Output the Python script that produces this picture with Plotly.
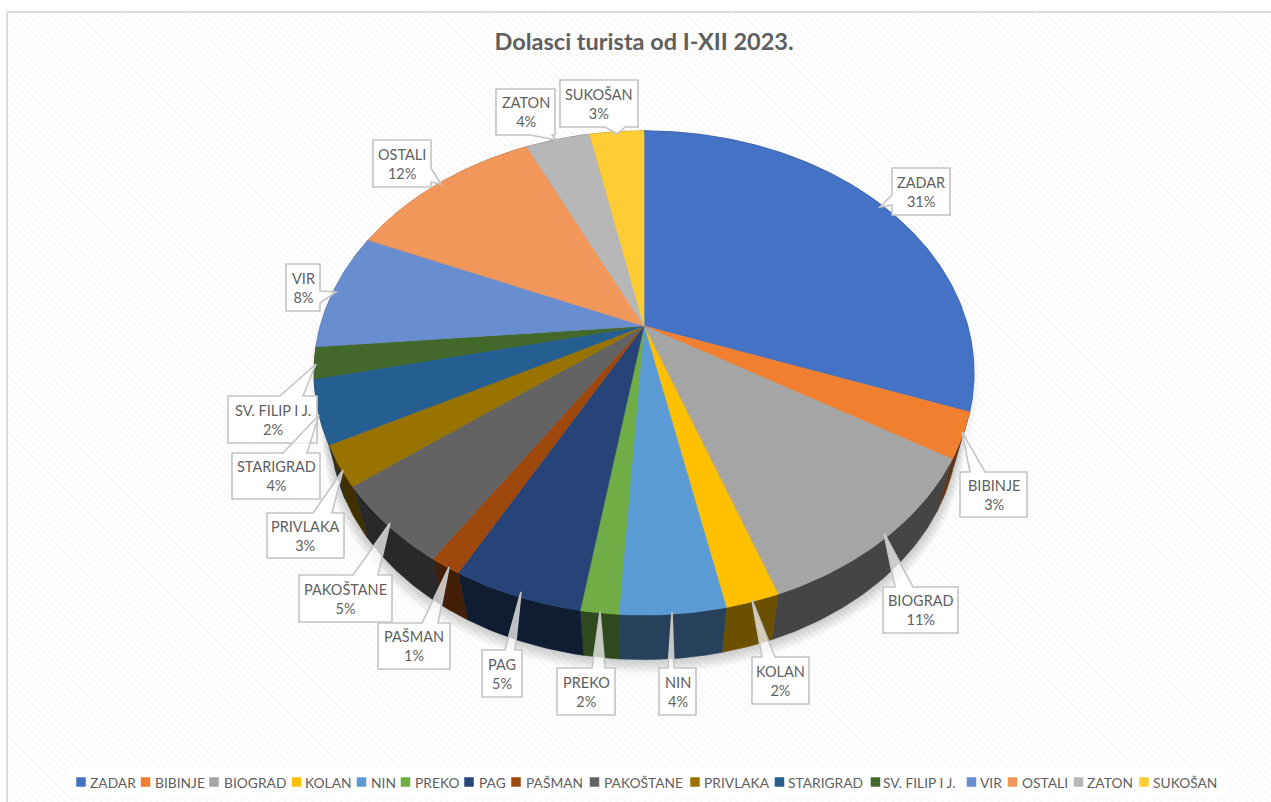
import numpy as np
import plotly.graph_objects as go

# ---- data -----------------------------------------------------------------
categories = ["ZADAR", "BIBINJE", "BIOGRAD", "KOLAN", "NIN", "PREKO", "PAG", "PAŠMAN",
              "PAKOŠTANE", "PRIVLAKA", "STARIGRAD", "SV. FILIP I J.", "VIR", "OSTALI",
              "ZATON", "SUKOŠAN"]
values = [30.6, 3.0, 10.9, 2.2, 4.3, 1.55, 5.35, 1.3, 5.4, 2.7, 4.2, 2.1, 7.9, 11.5, 3.8, 3.2]
title_text = "Dolasci turista od I-XII 2023."

# ---- styles ---------------------------------------------------------------
colors = ["#4472C4", "#F07F2F", "#A5A5A5", "#FFC000", "#5B9BD5", "#70AD47", "#264478", "#9E480E",
          "#636363", "#997300", "#255E91", "#43682B", "#698ED0", "#F1975A", "#B7B7B7", "#FFCD33"]
SIDE_SHADE = 0.42
FONT = "Lato, 'Noto Sans', sans-serif"
TEXT = "#5f5f5f"

# ---- layout: the projection of the tilted pie onto the page (pixels) -------
CX, CY = 644.0, 326.0
A, B, K = 323.7, 233.0, 0.194
SIDE_SCALE, SIDE_DROP = 0.95, 59.0


def project(theta, scale=1.0, drop=0.0):
    u, v = np.sin(theta), np.cos(theta)
    d = 1 + K * v
    return CX + scale * A * u / d, CY - scale * B * v / d + drop


def darker(hex_color, f):
    r, g, b = (int(hex_color[i:i + 2], 16) for i in (1, 3, 5))
    return f"rgb({int(r * f)},{int(g * f)},{int(b * f)})"


def poly(xs, ys, fill, line=None, width=0.6):
    return go.Scatter(x=list(xs), y=list(ys), mode="lines", fill="toself", fillcolor=fill,
                      line=dict(color=line or "rgba(0,0,0,0)", width=width if line else 0),
                      hoverinfo="skip", showlegend=False)


fractions = np.array(values) / sum(values)
edges = np.concatenate([[0.0], np.cumsum(fractions)]) * 2 * np.pi

fig = go.Figure()

# page background with the faint diagonal hatch, frame line
fig.add_trace(go.Scatter(x=[7, 1275, 1275, 7, 7], y=[12, 12, 806, 806, 12], mode="lines", fill="toself",
                         fillcolor="#ffffff", line=dict(color="#dcdcdc", width=2),
                         fillpattern=dict(shape="\\", fgcolor="#f1f1f1", bgcolor="#ffffff",
                                          size=5, solidity=0.35),
                         hoverinfo="skip", showlegend=False))
fig.add_trace(poly([69, 1226, 1226, 69, 69], [767, 767, 798, 798, 767], "#ffffff"))

# soft shadow beneath the pie
ring = np.linspace(0, 2 * np.pi, 241)
for step in range(1, 8):
    sx, sy = project(ring, SIDE_SCALE + 0.0035 * step, SIDE_DROP + 1.0 * step)
    fig.add_trace(poly(sx, sy, "rgba(0,0,0,0.028)"))
for step in range(1, 5):
    sx, sy = project(ring, 1.0 + 0.004 * step, 3.0 + step)
    fig.add_trace(poly(sx, sy, "rgba(0,0,0,0.012)"))

# side walls, then top faces, all computed from the values
for i in range(len(values)):
    th = np.linspace(edges[i], edges[i + 1], max(4, int(values[i] * 5)))
    x1, y1 = project(th)
    x2, y2 = project(th[::-1], SIDE_SCALE, SIDE_DROP)
    c = darker(colors[i], SIDE_SHADE)
    fig.add_trace(poly(np.r_[x1, x2, x1[0]], np.r_[y1, y2, y1[0]], c, c))
for i in range(len(values)):
    th = np.linspace(edges[i], edges[i + 1], max(4, int(values[i] * 5)))
    x1, y1 = project(th)
    fig.add_trace(go.Scatter(x=np.r_[CX, x1, CX], y=np.r_[CY, y1, CY], mode="lines", fill="toself",
                             fillcolor=colors[i], line=dict(color=colors[i], width=0.6),
                             name=categories[i], hoverinfo="name", showlegend=False))

# ---- callouts: box left, top, right, bottom, tail edge, tail base a, b, tip x, y
callouts = [
    (892, 168, 950, 215, "L", 195, 205, 880, 207),
    (960, 472, 1027, 517, "T", 970, 985, 962, 432),
    (883, 587, 958, 633, "T", 895, 913, 884, 533),
    (752, 657, 809, 704, "T", 762, 775, 752, 600),
    (659, 668, 696, 715, "T", 668, 674, 672, 612),
    (557, 668, 615, 715, "T", 592, 605, 600, 612),
    (482, 650, 522, 697, "T", 505, 515, 521, 592),
    (378, 623, 450, 669, "T", 422, 438, 449, 567),
    (299, 575, 392, 622, "T", 353, 378, 390, 523),
    (267, 513, 344, 558, "T", 313, 332, 343, 470),
    (232, 453, 320, 499, "T", 283, 307, 319, 415),
    (228, 396, 317, 443, "T", 280, 303, 316, 364),
    (286, 264, 320, 311, "R", 291, 303, 336, 292),
    (373, 140, 431, 187, "R", 168, 182, 441, 184),
    (496, 89, 555, 135, "B", 530, 552, 557, 140),
    (560, 80, 638, 127, "B", 605, 625, 617, 134),
]
# paint order: the lower neighbours overlap the upper ones, as in the picture
paint_order = [0, 1, 2, 3, 4, 5, 6, 8, 7, 9, 11, 10, 12, 13, 14, 15]

shapes, annotations = [], []
for idx in paint_order:
    l, t, r, b, edge, a1, a2, tx, ty = callouts[idx]
    pts = [(l, t)]
    if edge == "T":
        pts += [(a1, t), (tx, ty), (a2, t)]
    pts += [(r, t)]
    if edge == "R":
        pts += [(r, a1), (tx, ty), (r, a2)]
    pts += [(r, b)]
    if edge == "B":
        pts += [(a2, b), (tx, ty), (a1, b)]
    pts += [(l, b)]
    if edge == "L":
        pts += [(l, a2), (tx, ty), (l, a1)]
    path = "M " + " L ".join(f"{x} {y}" for x, y in pts) + " Z"
    shapes.append(dict(type="rect", xref="x", yref="y", x0=l, x1=r, y0=t, y1=b,
                       fillcolor="#ffffff", line=dict(width=0), layer="above"))
    shapes.append(dict(type="path", xref="x", yref="y", path=path,
                       fillcolor="rgba(255,255,255,0.72)",
                       line=dict(color="#c4c4c4", width=1.6), layer="above"))
    annotations.append(dict(xref="x", yref="y", x=(l + r) / 2, y=(t + b) / 2, showarrow=False,
                            text=f"{categories[idx]}<br>{round(values[idx])}%", align="center",
                            font=dict(family=FONT, size=14.5, color=TEXT), xanchor="center",
                            yanchor="middle"))

# ---- legend row
legend_marker_x = [81, 145.5, 214, 296.5, 361.5, 405.5, 469, 516, 594.5, 695, 779.5, 875.5, 971.5, 1012.5, 1078.5, 1144]
legend_text_x = [90, 155, 224, 305, 371, 415, 479, 526, 604, 704, 788, 883, 980, 1021.5, 1087, 1153]
LEGEND_Y = 782
fig.add_trace(go.Scatter(x=legend_marker_x, y=[LEGEND_Y] * len(categories), mode="markers",
                         marker=dict(symbol="square", size=9.5, color=colors, line=dict(width=0)),
                         hoverinfo="skip", showlegend=False))
for name, x in zip(categories, legend_text_x):
    annotations.append(dict(xref="x", yref="y", x=x, y=LEGEND_Y, text=name, showarrow=False,
                            xanchor="left", yanchor="middle", xshift=-2,
                            font=dict(family=FONT, size=13.8, color=TEXT)))

fig.update_layout(
    width=1271, height=802, autosize=False,
    margin=dict(l=0, r=0, t=0, b=0),
    paper_bgcolor="#ffffff", plot_bgcolor="#ffffff",
    title=dict(text=f"<b>{title_text}</b>", x=644 / 1271, xanchor="center", y=1 - 42 / 802, yanchor="middle",
               font=dict(family=FONT, size=23.5, color=TEXT)),
    xaxis=dict(range=[0, 1271], visible=False, fixedrange=True),
    yaxis=dict(range=[802, 0], visible=False, fixedrange=True),
    shapes=shapes, annotations=annotations, showlegend=False,
)

fig.write_html("out.html", config={"displayModeBar": False},
               post_script="document.body.style.margin='0';document.body.style.overflow='hidden';")
